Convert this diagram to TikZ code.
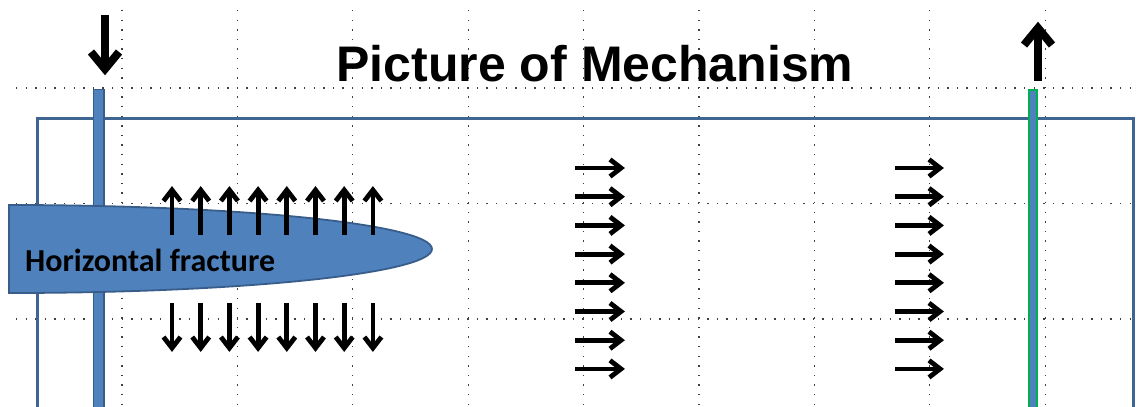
\documentclass[tikz,border=0pt]{standalone}
\usepackage{fontspec}
\setmainfont{Liberation Sans}
\newfontfamily\calibri{Carlito}
\usetikzlibrary{calc}
\definecolor{wellblue}{HTML}{4F81BD}
\definecolor{welledge}{HTML}{385D8A}
\definecolor{boxedge}{HTML}{3F6593}
\definecolor{wellgreen}{HTML}{00B050}
\tikzset{
  gridline/.style={line width=1.3pt, dash pattern=on 1.3pt off 8.3pt, black!75},
  flowline/.style={line width=4.8pt, line join=miter, miter limit=10},
  bigline/.style={line width=8pt, line join=miter, miter limit=10},
  wellbar/.style={fill=wellblue, draw=welledge, line width=1.8pt},
}
% arrow with an open chevron head: style, head depth, head half width, from, to
\newcommand\drawbarb[5]{%
  \draw[#1, shorten >=3pt] #4 -- #5;
  \draw[#1] ($#5!#2!#4!#3!90:#4$) -- #5 -- ($#5!#2!#4!#3!-90:#4$);
}
\begin{document}
\begin{tikzpicture}[x=1pt,y=-1pt]
\useasboundingbox (0,0) rectangle (1141,407);
% dotted guide grid
\foreach \i in {0,...,8}
  \draw[gridline] (122+115.4*\i,10) -- (122+115.4*\i,407);
\foreach \y in {88,203.5,319}
  \draw[gridline] (16,\y) -- (1133,\y);
% reservoir outline
\draw[boxedge, line width=3pt] (37,410) -- (37,118) -- (1133,118) -- (1133,410);
% injection well and production well
\draw[wellbar] (93.5,89.5) rectangle (104,412);
\draw[wellbar, draw=wellgreen, line width=2.4pt] (1029,90) rectangle (1037,412);
% horizontal fracture
\draw[fill=wellblue, draw=welledge, line width=1.8pt]
  (9,205) arc[start angle=-90, end angle=90, x radius=423, y radius=44] -- cycle;
\node[font=\calibri\bfseries\fontsize{32}{32}\selectfont, anchor=base west, inner sep=0pt]
  (fraclabel) at (25,271) {Horizontal fracture};
% title
\node[font=\bfseries\fontsize{50}{50}\selectfont, anchor=base, inner sep=0pt]
  (title) at (595,81) {Picture of Mechanism};
% injection / production arrows
\drawbarb{bigline}{17pt}{14pt}{(105,15)}{(105,69)}
\drawbarb{bigline}{17pt}{14pt}{(1038,81)}{(1038,28)}
% fracture opening arrows
\foreach \i in {0,...,7} {
  \drawbarb{flowline}{11pt}{8.5pt}{(172+28.7*\i,235)}{(172+28.7*\i,190)}
  \drawbarb{flowline}{11pt}{8.5pt}{(172+28.7*\i,303)}{(172+28.7*\i,348)}
}
% flow front arrows
\foreach \i in {0,...,7} {
  \drawbarb{flowline}{11pt}{8.5pt}{(575,168+28.7*\i)}{(621,168+28.7*\i)}
  \drawbarb{flowline}{11pt}{8.5pt}{(895,168+28.7*\i)}{(940,168+28.7*\i)}
}
\end{tikzpicture}
\end{document}
